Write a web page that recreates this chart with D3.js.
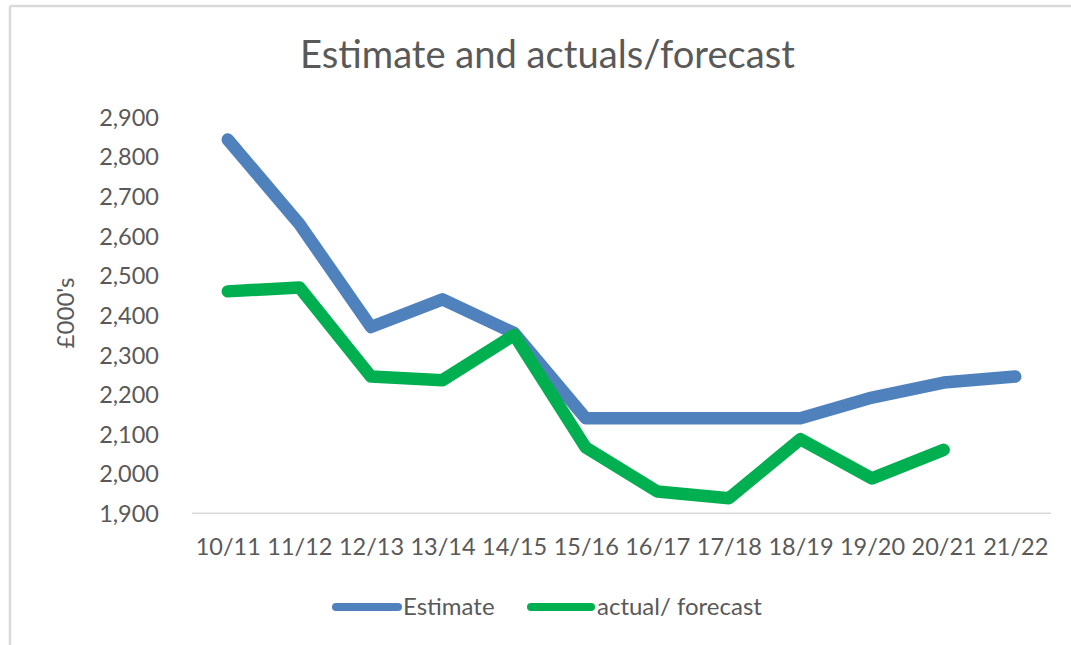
<!DOCTYPE html>
<html><head><meta charset="utf-8">
<script src="https://cdn.jsdelivr.net/npm/d3@7"></script>
<style>html,body{margin:0;padding:0;background:#fff;}svg{display:block;}text{font-family:Lato,"Open Sans",sans-serif;fill:#595959;}</style>
</head><body>
<script>
const categories = ["10/11","11/12","12/13","13/14","14/15","15/16","16/17","17/18","18/19","19/20","20/21","21/22"];
const estimate = [2843, 2630, 2370, 2440, 2355, 2140, 2140, 2140, 2140, 2192, 2230, 2245];
const actualForecast = [2460, 2470, 2245, 2236, 2350, 2066, 1955, 1938, 2087, 1988, 2060, null];
const yTicks = [1900, 2000, 2100, 2200, 2300, 2400, 2500, 2600, 2700, 2800, 2900];
const seriesNames = ["Estimate", "actual/ forecast"];
const colors = ["#4F81BD", "#00B050"];

const W = 1071, H = 645;
const svg = d3.select("body").append("svg").attr("width", W).attr("height", H);

// frame
svg.append("line").attr("x1",10).attr("x2",10).attr("y1",6).attr("y2",H).attr("stroke","#d9d9d9").attr("stroke-width",2.5);
svg.append("line").attr("x1",10).attr("x2",W).attr("y1",6).attr("y2",6).attr("stroke","#d9d9d9").attr("stroke-width",2.5);

const x = d3.scalePoint().domain(categories).range([192, 1051]).padding(0.5);
const y = d3.scaleLinear().domain([1900, 2900]).range([513.3, 117]);

function fit(sel, target){
  const w = sel.node().getComputedTextLength();
  const fs = parseFloat(sel.attr("font-size"));
  sel.attr("font-size", fs * target / w);
}

// title
const title = svg.append("text").attr("x", 547.5).attr("y", 68).attr("text-anchor","middle")
  .attr("font-size", 32).attr("font-weight", 400).text("Estimate and actuals/forecast");
fit(title, 495);

// y axis labels
const yAxis = d3.axisLeft(y).tickValues(yTicks).tickFormat(d3.format(",")).tickSize(0).tickPadding(0);
const ga = svg.append("g").attr("transform","translate(159,0)").call(yAxis);
ga.select(".domain").remove();
ga.selectAll("text").attr("font-size", 23.5).attr("font-family","Lato, 'Open Sans', sans-serif").attr("fill","#595959").attr("dy","0.35em");

// x axis
const xAxis = d3.axisBottom(x).tickSize(0).tickPadding(0);
const gx = svg.append("g").attr("transform","translate(0,513.3)").call(xAxis);
gx.select(".domain").attr("d", "M192,0H1051").attr("stroke","#d9d9d9").attr("stroke-width",1.5);
gx.selectAll("text").attr("font-size", 23.5).attr("font-family","Lato, 'Open Sans', sans-serif").attr("fill","#595959").attr("dy", null).attr("y", 42);

// y title
svg.append("text").attr("transform","translate(74,313) rotate(-90)").attr("text-anchor","middle")
  .attr("font-size", 24).text("£000's");

// lines
const line = d3.line().defined(d => d.v != null).x(d => x(d.c)).y(d => y(d.v));
[estimate, actualForecast].forEach((arr, i) => {
  svg.append("path")
    .datum(categories.map((c, j) => ({c, v: arr[j]})))
    .attr("d", line).attr("fill","none").attr("stroke", colors[i])
    .attr("stroke-width", 12.5).attr("stroke-linecap","round").attr("stroke-linejoin","round");
});

// legend
const legendPos = [{x1:336, x2:398, tx:403, w:92}, {x1:531, x2:591, tx:597, w:170}];
seriesNames.forEach((n, i) => {
  const p = legendPos[i];
  svg.append("line").attr("x1", p.x1).attr("x2", p.x2).attr("y1", 607).attr("y2", 607)
    .attr("stroke", colors[i]).attr("stroke-width", 8).attr("stroke-linecap","round");
  const t = svg.append("text").attr("x", p.tx).attr("y", 615).attr("font-size", 24).text(n);
});
</script>
</body></html>
